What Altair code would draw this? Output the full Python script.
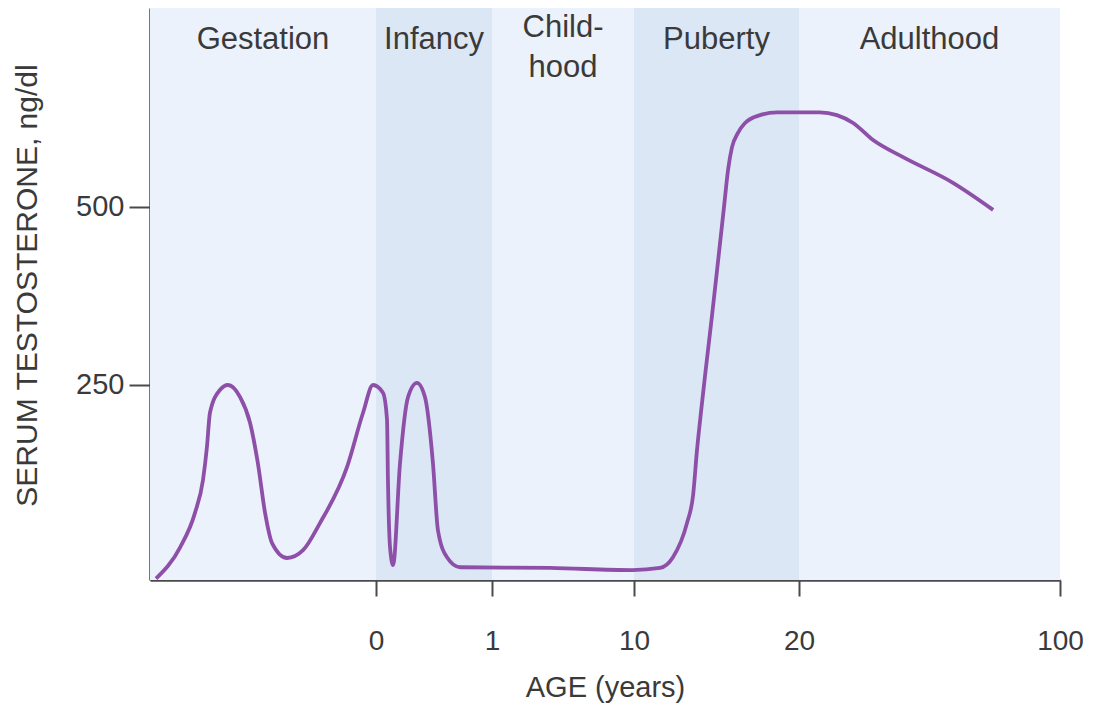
import altair as alt
import pandas as pd

# Age in years (gestation shown as negative years before birth)
AGE = [-0.73, -0.65, -0.601, -0.574, -0.561, -0.551, -0.518, -0.491, -0.451, -0.418,
       -0.392, -0.368, -0.345, -0.295, -0.242, -0.186, -0.096, -0.043, -0.010,
       0.060, 0.095, 0.103, 0.121, 0.147, 0.207, 0.276, 0.353, 0.422, 0.491, 0.534,
       0.612, 0.724, 4.68, 9.9, 11.58, 12.36,
       13.21, 13.58, 13.82, 14.06, 14.36, 14.73, 15.09, 15.45, 15.70, 15.94,
       16.30, 16.73, 17.64, 18.67, 26.4, 31.6, 36.6, 42.7,
       51.9, 67.2, 79.5]
# Serum testosterone, ng/dl
TESTO = [-22, 22, 70, 117, 163, 211, 243, 250, 233, 197,
         140, 70, 28, 7, 18, 56, 135, 211, 250,
         239, 201, 117, 22, -3, 140, 233, 253, 233, 140, 46,
         8, -6, -7, -10, -7, 8,
         56, 95, 159, 212, 274, 348, 423, 499, 552, 584,
         604, 618, 629, 633, 633, 629, 618, 594,
         570, 534, 496]

BAND_LABELS = ["Gestation", "Infancy", "Child-\nhood", "Puberty", "Adulthood"]
BAND_START = [-0.75, 0, 1, 10, 20]
BAND_END = [0, 1, 10, 20, 100]
BAND_SHADE = ["light", "dark", "light", "dark", "light"]

X_TICKS = [0, 1, 10, 20, 100]
Y_TICKS = [250, 500]

W, H = 910, 572
X_DOMAIN = [-0.75, 0, 1, 10, 20, 100]
X_RANGE = [0, 226, 342, 484, 649, 910]
Y_DOMAIN = [-23.9, 779.5]

FONT = "Liberation Sans"
TXT = "#3a3a3a"
AX = "#4a4a4a"

curve = pd.DataFrame({"age": AGE, "t": TESTO})
bands = pd.DataFrame({"label": BAND_LABELS, "start": BAND_START, "end": BAND_END,
                      "shade": BAND_SHADE})

xscale = alt.Scale(domain=X_DOMAIN, range=X_RANGE, nice=False, zero=False)
yscale = alt.Scale(domain=Y_DOMAIN, nice=False, zero=False)

X_AXIS = alt.Axis(values=X_TICKS, title="AGE (years)", grid=False,
                  labelFontSize=28, labelColor=TXT, labelFont=FONT,
                  labelPadding=31, tickSize=16, tickWidth=2, tickColor=AX,
                  domainColor=AX, domainWidth=2.5, labelFlush=False,
                  titleFontSize=29, titleFont=FONT, titleColor=TXT,
                  titleFontWeight="normal", titleBaseline="alphabetic",
                  titleY=116)
Y_AXIS = alt.Axis(values=Y_TICKS, title="SERUM TESTOSTERONE, ng/dl", grid=False,
                  labelFontSize=29, labelColor=TXT, labelFont=FONT,
                  labelPadding=5, tickSize=21, tickWidth=2, tickColor=AX,
                  domainColor=AX, domainWidth=2.5,
                  titleFontSize=30, titleFont=FONT, titleColor=TXT,
                  titleFontWeight="normal", titleBaseline="alphabetic",
                  titleAngle=270, titleX=-114, titleY=277)

rects = alt.Chart(bands).mark_rect(stroke=None).encode(
    x=alt.X("start:Q", scale=xscale, axis=X_AXIS),
    x2="end:Q",
    y=alt.Y("yv:Q", scale=yscale, axis=Y_AXIS),
    y2="yv2:Q",
    color=alt.Color("shade:N", scale=alt.Scale(domain=["light", "dark"],
                                               range=["#EBF2FB", "#DCE7F6"]),
                    legend=None),
).transform_calculate(yv=str(Y_DOMAIN[0]), yv2=str(Y_DOMAIN[1]))

text_base = alt.Chart(bands).mark_text(
    fontSize=31, font=FONT, color=TXT, baseline="middle", align="center",
    lineBreak="\n", lineHeight=40
).transform_calculate(mid="(datum.start + datum.end) / 2")

labels_single = text_base.transform_filter(
    "indexof(datum.label, '\\n') < 0"
).encode(
    x=alt.X("mid:Q", scale=xscale, axis=X_AXIS),
    y=alt.value(32),
    text="label:N",
)
labels_multi = text_base.transform_filter(
    "indexof(datum.label, '\\n') >= 0"
).encode(
    x=alt.X("mid:Q", scale=xscale, axis=X_AXIS),
    y=alt.value(20),
    text="label:N",
)

line = alt.Chart(curve).mark_line(
    color="#8E4FA9", strokeWidth=3.8, interpolate="monotone", clip=True
).encode(
    x=alt.X("age:Q", scale=xscale, axis=X_AXIS),
    y=alt.Y("t:Q", scale=yscale, axis=Y_AXIS),
    order=alt.Order("age:Q"),
)

chart = alt.layer(rects, labels_single, labels_multi, line).properties(
    width=W, height=H,
    autosize=alt.AutoSizeParams(type="none"),
    padding={"left": 142, "top": 0, "right": 30, "bottom": 124},
    background="white",
).configure_view(stroke=None)

chart.save("out.html", embed_options={"renderer": "svg", "actions": False})
